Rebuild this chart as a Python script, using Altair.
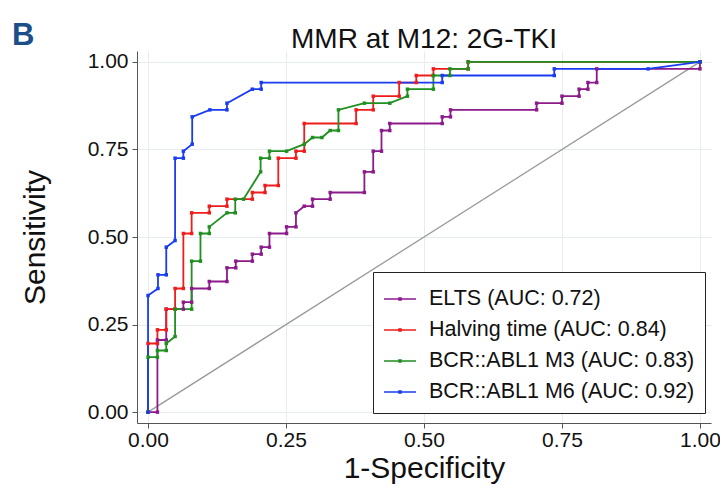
import altair as alt
import pandas as pd

labels = ["ELTS (AUC: 0.72)", "Halving time (AUC: 0.84)",
          "BCR::ABL1 M3 (AUC: 0.83)", "BCR::ABL1 M6 (AUC: 0.92)"]
colors = ["#8b1a8b", "#ee1c1c", "#1f8f1f", "#1a3cf0"]
title_text = "MMR at M12: 2G-TKI"
panel_text = "B"

elts_x = [0, 0.017, 0.017, 0.033, 0.033, 0.064, 0.064, 0.079, 0.079, 0.111, 0.111, 0.143, 0.143,
          0.159, 0.159, 0.189, 0.189, 0.205, 0.205, 0.220, 0.220, 0.251, 0.251, 0.268, 0.268, 0.283,
          0.298, 0.298, 0.330, 0.330, 0.392, 0.392, 0.408, 0.408, 0.423, 0.423, 0.438, 0.438, 0.533,
          0.533, 0.548, 0.548, 0.704, 0.704, 0.750, 0.750, 0.781, 0.781, 0.797, 0.797, 0.813, 0.813,
          1.0, 1.0]
elts_y = [0, 0, 0.206, 0.206, 0.294, 0.294, 0.314, 0.314, 0.353, 0.353, 0.373, 0.373, 0.412,
          0.412, 0.431, 0.431, 0.451, 0.451, 0.471, 0.471, 0.510, 0.510, 0.529, 0.529, 0.569, 0.588,
          0.588, 0.608, 0.608, 0.627, 0.627, 0.686, 0.686, 0.745, 0.745, 0.804, 0.804, 0.824, 0.824,
          0.843, 0.843, 0.863, 0.863, 0.882, 0.882, 0.902, 0.902, 0.922, 0.922, 0.941, 0.941, 0.980,
          0.980, 1.0]

ht_x = [0, 0, 0.017, 0.017, 0.033, 0.033, 0.049, 0.049, 0.064, 0.064, 0.079, 0.079, 0.111, 0.111,
        0.143, 0.143, 0.189, 0.189, 0.212, 0.212, 0.236, 0.236, 0.268, 0.268, 0.283, 0.283, 0.377,
        0.377, 0.408, 0.408, 0.455, 0.455, 0.486, 0.486, 0.517, 0.517, 0.580, 0.580, 1.0]
ht_y = [0, 0.196, 0.196, 0.235, 0.235, 0.294, 0.294, 0.353, 0.353, 0.510, 0.510, 0.569, 0.569,
        0.588, 0.588, 0.608, 0.608, 0.627, 0.627, 0.647, 0.647, 0.725, 0.725, 0.745, 0.745, 0.824,
        0.824, 0.863, 0.863, 0.902, 0.902, 0.941, 0.941, 0.961, 0.961, 0.980, 0.980, 1.0, 1.0]

m3_x = [0, 0, 0.017, 0.017, 0.033, 0.033, 0.049, 0.049, 0.079, 0.079, 0.095, 0.095, 0.111, 0.111,
        0.143, 0.158, 0.158, 0.173, 0.204, 0.204, 0.220, 0.220, 0.251, 0.283, 0.298, 0.315, 0.330,
        0.345, 0.345, 0.392, 0.438, 0.470, 0.470, 0.517, 0.517, 0.547, 0.547, 0.580, 0.580, 1.0]
m3_y = [0, 0.157, 0.157, 0.176, 0.176, 0.196, 0.216, 0.294, 0.294, 0.431, 0.431, 0.510, 0.510,
        0.529, 0.569, 0.569, 0.608, 0.608, 0.686, 0.725, 0.725, 0.745, 0.745, 0.765, 0.784, 0.784,
        0.804, 0.804, 0.863, 0.882, 0.882, 0.902, 0.922, 0.922, 0.961, 0.961, 0.980, 0.980, 1.0, 1.0]

m6_x = [0, 0, 0.018, 0.018, 0.033, 0.033, 0.049, 0.049, 0.064, 0.064, 0.080, 0.080, 0.112, 0.143,
        0.143, 0.189, 0.205, 0.205, 0.533, 0.533, 0.736, 0.736, 0.906, 1.0]
m6_y = [0, 0.333, 0.353, 0.392, 0.392, 0.471, 0.490, 0.725, 0.725, 0.745, 0.765, 0.843, 0.863,
        0.863, 0.882, 0.922, 0.922, 0.941, 0.941, 0.961, 0.961, 0.980, 0.980, 1.0]

ref_x = [0, 1]
ref_y = [0, 1]

tick_vals = [0, 0.25, 0.5, 0.75, 1.0]

rows = []
for lab, xs, ys in zip(labels, [elts_x, ht_x, m3_x, m6_x], [elts_y, ht_y, m3_y, m6_y]):
    for i, (a, b) in enumerate(zip(xs, ys)):
        rows.append({"series": lab, "i": i, "fpr": a, "tpr": b})
df = pd.DataFrame(rows)
ref_df = pd.DataFrame({"fpr": ref_x, "tpr": ref_y})

FONT = "Liberation Sans"

x_enc = alt.X("fpr:Q", scale=alt.Scale(domain=[-0.02, 1.02], nice=False, zero=False),
              axis=alt.Axis(values=tick_vals, format=".2f", title="1-Specificity",
                            titlePadding=3, labelPadding=1))
y_enc = alt.Y("tpr:Q", scale=alt.Scale(domain=[-0.031, 1.031], nice=False, zero=False),
              axis=alt.Axis(values=tick_vals, format=".2f", title="Sensitivity",
                            titlePadding=37, labelPadding=4))
legend = alt.Legend(title=None, orient="none", legendX=236, legendY=221,
                    fillColor="white", strokeColor="#222", padding=10,
                    labelFontSize=21.5, labelFont=FONT, labelColor="#111",
                    symbolType="M-1,0H1M-0.06,-0.06H0.06V0.06H-0.06Z",
                    symbolSize=1024, symbolStrokeWidth=1.6, rowPadding=3,
                    labelOffset=12, labelLimit=400)
color_enc = alt.Color("series:N", scale=alt.Scale(domain=labels, range=colors), legend=legend)

ref = alt.Chart(ref_df).mark_line(color="#9a9a9a", strokeWidth=1.3).encode(x=x_enc, y=y_enc)
lines = alt.Chart(df).mark_line(strokeWidth=1.8).encode(
    x=x_enc, y=y_enc, color=color_enc, order="i:Q")
points = alt.Chart(df).mark_point(filled=True, size=12, opacity=1, shape="square").encode(
    x=x_enc, y=y_enc, color=color_enc)
panel = alt.Chart(pd.DataFrame({"t": [panel_text]})).mark_text(
    font=FONT, fontSize=31, fontWeight="bold", color="#1c4f8a", align="left",
    baseline="alphabetic").encode(x=alt.value(-125), y=alt.value(-6), text="t:N")
title = alt.Chart(pd.DataFrame({"t": [title_text]})).mark_text(
    font=FONT, fontSize=28, color="#111", align="center",
    baseline="alphabetic").encode(x=alt.value(287), y=alt.value(-3), text="t:N")

chart = alt.layer(ref, lines, points, panel, title).properties(
    width=574, height=372,
    autosize=alt.AutoSizeParams(type="none"),
    padding={"left": 129, "top": 43, "right": 9, "bottom": 70},
).configure_view(strokeWidth=0).configure_axis(
    gridColor="#e6ecef", gridWidth=1, domainColor="#555", tickColor="#555", tickSize=5,
    labelFont=FONT, labelFontSize=21, labelColor="#111",
    titleFont=FONT, titleFontSize=30, titleFontWeight="normal", titleColor="#111"
)

chart.save("out.html", embed_options={"renderer": "svg", "actions": False})
